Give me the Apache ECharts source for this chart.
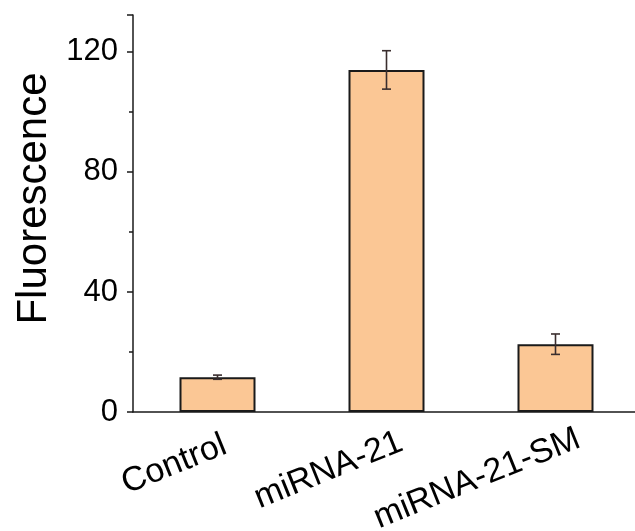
<!DOCTYPE html>
<html>
<head>
<meta charset="utf-8">
<script src="https://cdn.jsdelivr.net/npm/echarts@6/dist/echarts.min.js"></script>
<style>
  html, body { margin: 0; padding: 0; background: #fff; }
  #chart { width: 635px; height: 531px; }
</style>
</head>
<body>
<div id="chart"></div>
<script>
var categories = ['Control', 'miRNA-21', 'miRNA-21-SM'];
var values = [11.6, 114, 22.6];
var errors = [0.7, 6.4, 3.4];
var yTicks = [0, 40, 80, 120];

var chart = echarts.init(document.getElementById('chart'));
var font = 'Liberation Sans, Arial, sans-serif';

var errData = categories.map(function (c, i) {
  return [i, values[i] - errors[i], values[i] + errors[i]];
});

// how far each rotated label runs past its tick
var labelShift = [-8, -16, -25];

var option = {
  animation: false,
  grid: { left: 133, right: -5, top: 15, bottom: 119, outerBoundsMode: 'none' },
  xAxis: [
    {
      type: 'category',
      data: categories,
      axisLine: { lineStyle: { color: '#1a1a1a', width: 1.5 } },
      axisTick: { alignWithLabel: true, length: 6, lineStyle: { color: '#1a1a1a', width: 1.5 } },
      axisLabel: {
        rotate: 22, fontSize: 34, color: '#000', fontFamily: font,
        margin: 35,
        formatter: function (v, i) { return '{l' + i + '|' + v + '}'; },
        rich: {
          l0: { fontSize: 34, fontFamily: font, color: '#000', padding: [0, labelShift[0], 0, 0] },
          l1: { fontSize: 34, fontFamily: font, color: '#000', padding: [0, labelShift[1], 0, 0] },
          l2: { fontSize: 34, fontFamily: font, color: '#000', padding: [0, labelShift[2], 0, 0] }
        }
      }
    },
    {
      type: 'category',
      data: categories,
      position: 'bottom',
      axisLine: { show: false },
      axisTick: {
        length: 3, lineStyle: { color: '#1a1a1a', width: 1.5 },
        interval: function (idx) { return idx !== 0; }
      },
      axisLabel: { show: false }
    }
  ],
  yAxis: {
    type: 'value',
    min: 0,
    max: 132.3,
    interval: 40,
    name: 'Fluorescence',
    nameLocation: 'middle',
    nameGap: 75,
    nameTextStyle: { fontSize: 42, color: '#000', fontFamily: font, padding: [0, 0, 0, 30] },
    axisLine: { show: true, lineStyle: { color: '#1a1a1a', width: 1.5 } },
    axisTick: { show: true, length: 6, lineStyle: { color: '#1a1a1a', width: 1.5 } },
    minorTick: { show: true, splitNumber: 2, length: 4, lineStyle: { color: '#1a1a1a', width: 1.5 } },
    splitLine: { show: false },
    axisLabel: {
      fontSize: 31, color: '#000', fontFamily: font, margin: 15,
      formatter: function (v) { return yTicks.indexOf(v) >= 0 ? String(v) : ''; }
    }
  },
  series: [
    {
      type: 'bar',
      data: values,
      barWidth: 76,
      itemStyle: { color: '#FBC795', borderColor: '#1a1a1a', borderWidth: 2 }
    },
    {
      type: 'custom',
      data: errData,
      z: 10,
      renderItem: function (params, api) {
        var x = api.value(0);
        var lo = api.coord([x, api.value(1)]);
        var hi = api.coord([x, api.value(2)]);
        var w = 4.5;
        var style = { stroke: '#3a2e2e', lineWidth: 1.6 };
        return {
          type: 'group',
          children: [
            { type: 'line', shape: { x1: lo[0], y1: lo[1], x2: hi[0], y2: hi[1] }, style: style },
            { type: 'line', shape: { x1: lo[0] - w, y1: lo[1], x2: lo[0] + w, y2: lo[1] }, style: style },
            { type: 'line', shape: { x1: hi[0] - w, y1: hi[1], x2: hi[0] + w, y2: hi[1] }, style: style }
          ]
        };
      }
    }
  ]
};
chart.setOption(option);
</script>
</body>
</html>
